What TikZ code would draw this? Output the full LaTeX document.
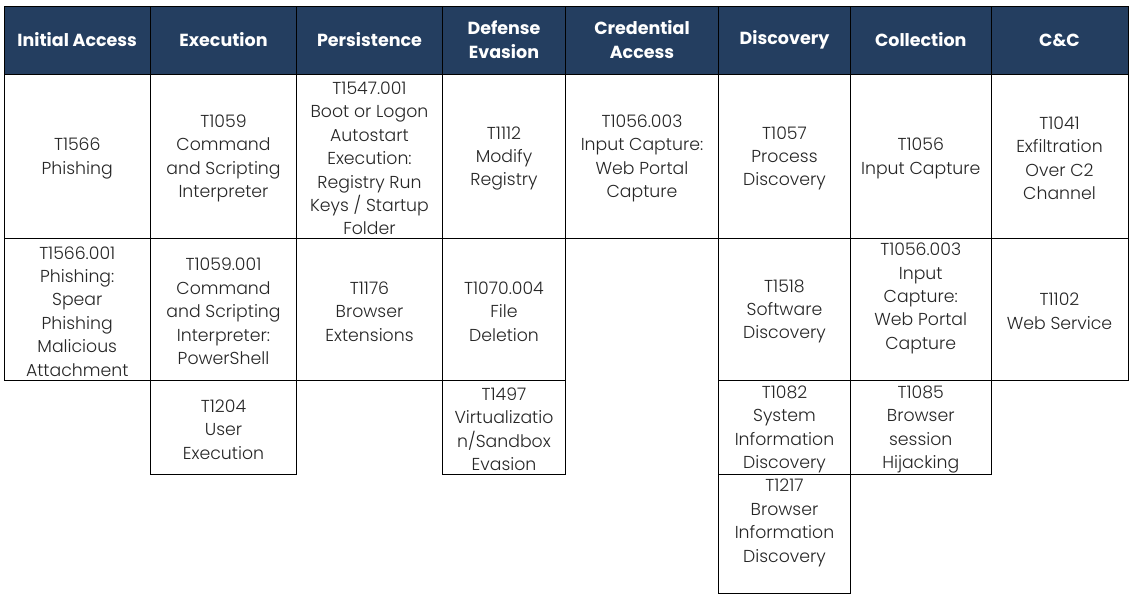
\documentclass[tikz,border=0pt]{standalone}
\usepackage{fontspec}
\setmainfont{Poppins Light}[BoldFont={Poppins Bold}]
\definecolor{navy}{HTML}{243E60}
\definecolor{ink}{HTML}{262626}
\newcommand\cellstrut{\rule{0pt}{17.5pt}}
\tikzset{
  base/.style={rectangle, draw=black, line width=0.9pt, inner sep=0pt, align=center},
  head/.style={base, fill=navy, text=white, font=\fontsize{17.5}{24}\selectfont\bfseries},
  cell/.style={base, fill=white, text=ink, font=\fontsize{17.3}{23.4}\selectfont},
}
\begin{document}
\begin{tikzpicture}[x=1pt, y=-1pt]
\useasboundingbox[fill=white] (0,0) rectangle (1133,596);
% header
\node[head, minimum width=146.5, minimum height=68] (h1) at (77.25,40) {Initial Access};
\node[head, minimum width=146, minimum height=68] (h2) at (223.5,40) {Execution};
\node[head, minimum width=146, minimum height=68] (h3) at (369.5,40) {Persistence};
\node[head, minimum width=123, minimum height=68] (h4) at (504,40) {Defense\\Evasion};
\node[head, minimum width=153, minimum height=68] (h5) at (642,40) {Credential\\Access};
\node[head, minimum width=132, minimum height=68] (h6) at (784.5,40) {Discovery};
\node[head, minimum width=140.5, minimum height=68] (h7) at (920.75,40) {Collection};
\node[head, minimum width=137, minimum height=68] (h8) at (1059.5,40) {C\&C};
% row 1
\node[cell, minimum width=146.5, minimum height=164] (a1) at (77.25,156) {\cellstrut T1566\\Phishing};
\node[cell, minimum width=146, minimum height=164] (b1) at (223.5,156) {\cellstrut T1059\\Command\\and Scripting\\Interpreter};
\node[cell, minimum width=146, minimum height=164] (c1) at (369.5,156) {\cellstrut T1547.001\\Boot or Logon\\Autostart\\Execution:\\Registry Run\\Keys / Startup\\Folder};
\node[cell, minimum width=123, minimum height=164] (d1) at (504,156) {\cellstrut T1112\\Modify\\Registry};
\node[cell, minimum width=153, minimum height=164] (e1) at (642,156) {\cellstrut T1056.003\\Input Capture:\\Web Portal\\Capture};
\node[cell, minimum width=132, minimum height=164] (f1) at (784.5,156) {\cellstrut T1057\\Process\\Discovery};
\node[cell, minimum width=140.5, minimum height=164] (g1) at (920.75,156) {\cellstrut T1056\\Input Capture};
\node[cell, minimum width=137, minimum height=164] (k1) at (1059.5,156) {\cellstrut T1041\\Exfiltration\\Over C2\\Channel};
% row 2
\node[cell, minimum width=146.5, minimum height=142] (a2) at (77.25,309) {\cellstrut T1566.001\\Phishing:\\Spear\\Phishing\\Malicious\\Attachment};
\node[cell, minimum width=146, minimum height=142] (b2) at (223.5,309) {\cellstrut T1059.001\\Command\\and Scripting\\Interpreter:\\PowerShell};
\node[cell, minimum width=146, minimum height=142] (c2) at (369.5,309) {\cellstrut T1176\\Browser\\Extensions};
\node[cell, minimum width=123, minimum height=142] (d2) at (504,309) {\cellstrut T1070.004\\File\\Deletion};
\node[cell, minimum width=132, minimum height=142] (f2) at (784.5,309) {\cellstrut T1518\\Software\\Discovery};
\node[cell, minimum width=140.5, minimum height=142] (g2) at (920.75,309) {\cellstrut T1056.003\\Input\\Capture:\\Web Portal\\Capture\\\strut};
\node[cell, minimum width=137, minimum height=142] (k2) at (1059.5,309) {\cellstrut T1102\\Web Service};
% row 3
\node[cell, minimum width=146, minimum height=94] (b3) at (223.5,427) {\cellstrut T1204\\User\\Execution};
\node[cell, minimum width=123, minimum height=94] (d3) at (504,427) {\cellstrut T1497\\Virtualizatio\\n/Sandbox\\Evasion};
\node[cell, minimum width=132, minimum height=94] (f3) at (784.5,427) {\cellstrut T1082\\System\\Information\\Discovery};
\node[cell, minimum width=140.5, minimum height=94] (g3) at (920.75,427) {\cellstrut T1085\\Browser\\session\\Hijacking};
% row 4
\node[cell, minimum width=132, minimum height=119] (f4) at (784.5,533.5) {\cellstrut T1217\\Browser\\Information\\Discovery\\\strut};
\end{tikzpicture}
\end{document}
